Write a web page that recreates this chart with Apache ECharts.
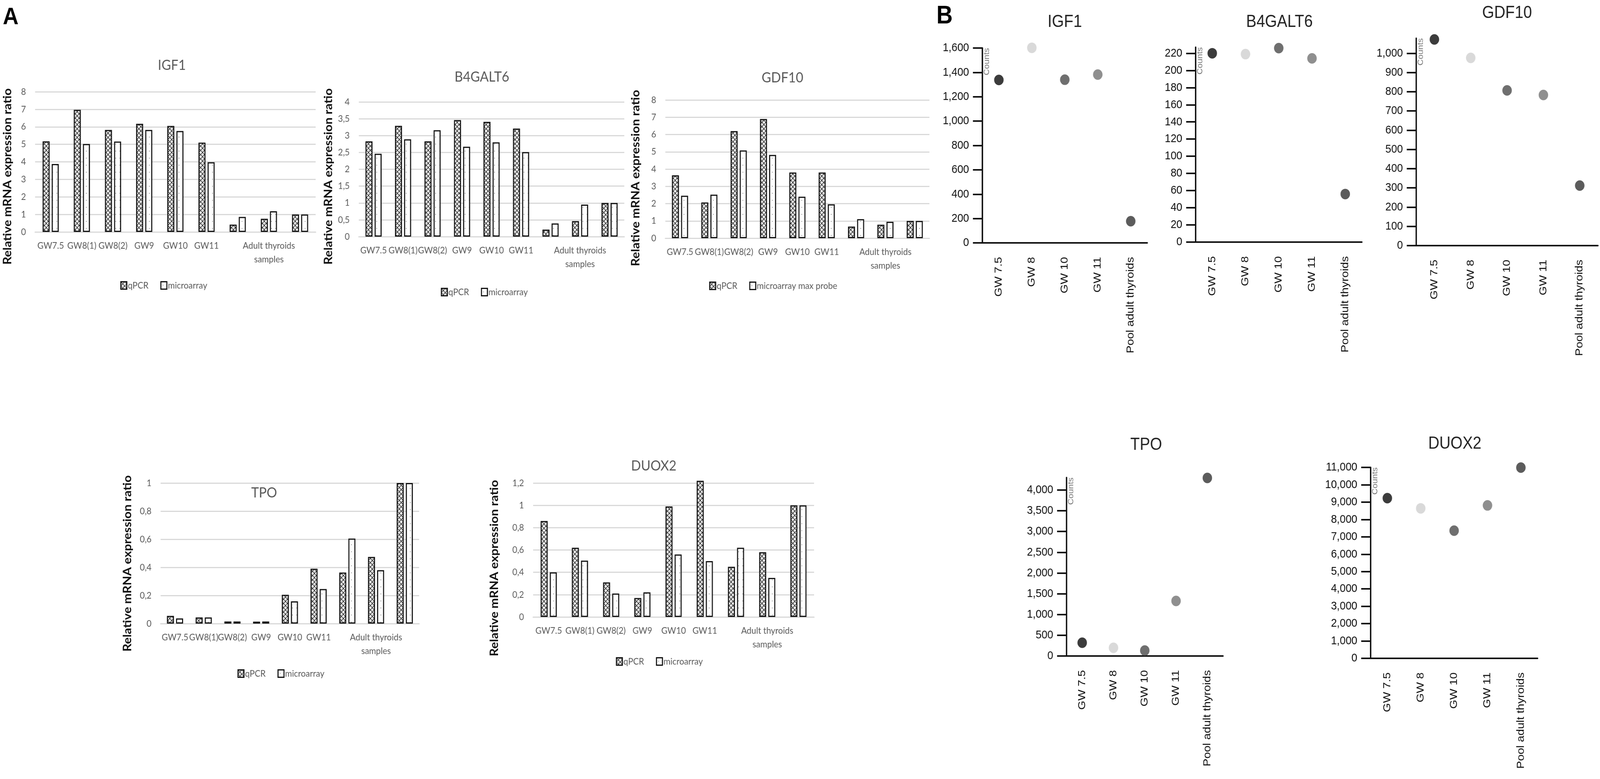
<!DOCTYPE html>
<html>
<head>
<meta charset="utf-8">
<title>Fetal thyroid markers: qPCR vs microarray</title>
<script src="https://cdn.jsdelivr.net/npm/echarts@6/dist/echarts.min.js"></script>
<style>
  html, body { margin: 0; padding: 0; background: #fff; overflow: hidden; }
  #main { width: 4562px; height: 1995px; transform-origin: 0 0; }
</style>
</head>
<body>
<div id="main"></div>
<script>
// ---- panel A data (relative mRNA expression ratio) ----
var catsA = ['GW7.5', 'GW8(1)', 'GW8(2)', 'GW9', 'GW10', 'GW11', '', 'Adult thyroids\nsamples', ''];

var igf1Qpcr    = [5.17, 6.97, 5.82, 6.17, 6.05, 5.1, 0.42, 0.75, 1.0];
var igf1Micro   = [3.88, 5.02, 5.16, 5.82, 5.76, 3.98, 0.86, 1.18, 1.0];
var b4galt6Qpcr = [2.83, 3.29, 2.83, 3.46, 3.41, 3.21, 0.21, 0.46, 1.0];
var b4galt6Micro= [2.46, 2.89, 3.16, 2.67, 2.8, 2.51, 0.39, 0.95, 1.0];
var gdf10Qpcr   = [3.64, 2.07, 6.2, 6.9, 3.8, 3.8, 0.67, 0.78, 1.0];
var gdf10Micro  = [2.46, 2.52, 5.08, 4.82, 2.4, 1.96, 1.1, 0.95, 1.0];
var tpoQpcr     = [0.055, 0.044, 0.015, 0.014, 0.205, 0.39, 0.363, 0.474, 1.0];
var tpoMicro    = [0.037, 0.044, 0.015, 0.015, 0.158, 0.246, 0.605, 0.38, 1.0];
var duox2Qpcr   = [0.86, 0.62, 0.31, 0.17, 0.99, 1.22, 0.45, 0.58, 1.0];
var duox2Micro  = [0.4, 0.505, 0.21, 0.22, 0.56, 0.5, 0.62, 0.35, 1.0];

// ---- panel B data (microarray counts) ----
var catsB = ['GW 7.5', 'GW 8', 'GW 10', 'GW 11', 'Pool adult thyroids'];

var igf1Counts    = [1338, 1602, 1340, 1382, 178];
var b4galt6Counts = [220, 219, 226, 214, 56];
var gdf10Counts   = [1072, 976, 807, 783, 312];
var tpoCounts     = [320, 198, 132, 1327, 4290];
var duox2Counts   = [9230, 8640, 7356, 8810, 10990];

var igf1Ticks    = [0, 200, 400, 600, 800, 1000, 1200, 1400, 1600];
var b4galt6Ticks = [0, 20, 40, 60, 80, 100, 120, 140, 160, 180, 200, 220];
var gdf10Ticks   = [0, 100, 200, 300, 400, 500, 600, 700, 800, 900, 1000];
var tpoTicks     = [0, 500, 1000, 1500, 2000, 2500, 3000, 3500, 4000];
var duox2Ticks   = [0, 1000, 2000, 3000, 4000, 5000, 6000, 7000, 8000, 9000, 10000, 11000];

// grey level of each sample dot
var dotColors = ['#0b0b0b', '#cfcfcf', '#4b4b4b', '#737373', '#333333'];

function hatch() {
  var c = document.createElement('canvas');
  c.width = 11; c.height = 11;
  var g = c.getContext('2d');
  g.fillStyle = '#fff'; g.fillRect(0, 0, 11, 11);
  g.strokeStyle = '#333'; g.lineWidth = 1.8;
  g.beginPath();
  g.moveTo(-1, -1); g.lineTo(12, 12);
  g.moveTo(12, -1); g.lineTo(-1, 12);
  g.stroke();
  g.fillStyle = '#555';
  g.fillRect(5, 0, 1.5, 1.5);
  return c;
}
function dots() {
  var c = document.createElement('canvas');
  c.width = 12; c.height = 18;
  var g = c.getContext('2d');
  g.fillStyle = '#fff'; g.fillRect(0, 0, 12, 18);
  g.fillStyle = '#888';
  g.fillRect(5, 8, 2, 2);
  return c;
}
var hatchFill = { image: hatch(), repeat: 'repeat' };
var dotFill = { image: dots(), repeat: 'repeat' };

function comma(v) {
  return String(+v.toFixed(2)).replace('.', ',');
}
function thousands(v) {
  return Number(v).toLocaleString('en-US');
}

var panelsA = [
  { title: 'IGF1', q: igf1Qpcr, m: igf1Micro, mName: 'microarray', max: 8, step: 1,
    left: 100, top: 235, width: 800, height: 359, tx: 490, ty: 167, yx: 22, yy: 452, lx: 338, ly: 714 },
  { title: 'B4GALT6', q: b4galt6Qpcr, m: b4galt6Micro, mName: 'microarray', max: 4, step: 0.5,
    left: 1023, top: 261, width: 757, height: 345, tx: 1374, ty: 197, yx: 937, yy: 452, lx: 1252, ly: 731 },
  { title: 'GDF10', q: gdf10Qpcr, m: gdf10Micro, mName: 'microarray max probe', max: 8, step: 1,
    left: 1897, top: 256, width: 753, height: 354, tx: 2231, ty: 199, yx: 1813, yy: 456, lx: 2017, ly: 715 },
  { title: 'TPO', q: tpoQpcr, m: tpoMicro, mName: 'microarray', max: 1, step: 0.2,
    left: 458, top: 1237, width: 737, height: 360, tx: 753, ty: 1262, yx: 364, yy: 1443, lx: 672, ly: 1708 },
  { title: 'DUOX2', q: duox2Qpcr, m: duox2Micro, mName: 'microarray', max: 1.2, step: 0.2,
    left: 1520, top: 1237, width: 801, height: 343, tx: 1864, ty: 1193, yx: 1410, yy: 1455, lx: 1751, ly: 1677 }
];

var panelsB = [
  { title: 'IGF1', v: igf1Counts, ticks: igf1Ticks, max: 1600,
    left: 2801, top: 123, width: 470, height: 499, tx: 3036, ty: 57 },
  { title: 'B4GALT6', v: b4galt6Counts, ticks: b4galt6Ticks, max: 227,
    left: 3409, top: 121, width: 474, height: 499, tx: 3648, ty: 57 },
  { title: 'GDF10', v: gdf10Counts, ticks: gdf10Ticks, max: 1078,
    left: 4038, top: 98, width: 518, height: 531, tx: 4297, ty: 34 },
  { title: 'TPO', v: tpoCounts, ticks: tpoTicks, max: 4300,
    left: 3041, top: 1223, width: 446, height: 457, tx: 3268, ty: 1140 },
  { title: 'DUOX2', v: duox2Counts, ticks: duox2Ticks, max: 11000,
    left: 3908, top: 1197, width: 476, height: 489, tx: 4148, ty: 1137 }
];

var fontA = 'Lato, "Open Sans", sans-serif';
var fontB = '"Liberation Sans", Arial, sans-serif';
var greyA = '#595959';

var option = {
  animation: false,
  backgroundColor: '#fff',
  grid: [], xAxis: [], yAxis: [], series: [], legend: [],
  graphic: [
    { type: 'text', x: 8, y: 45, style: { text: 'A', fontSize: 62, fontWeight: 'bold', fontFamily: fontB, fill: '#000', verticalAlign: 'middle' } },
    { type: 'text', x: 2670, y: 42, style: { text: 'B', fontSize: 64, fontWeight: 'bold', fontFamily: fontB, fill: '#000', verticalAlign: 'middle' } }
  ]
};

panelsA.forEach(function (p, i) {
  option.grid.push({ left: p.left, top: p.top, width: p.width, height: p.height });
  option.xAxis.push({
    type: 'category', gridIndex: i, data: catsA,
    axisLine: { lineStyle: { color: '#d9d9d9', width: 3 } },
    axisTick: { show: false },
    axisLabel: { interval: 0, color: greyA, fontFamily: fontA, fontSize: 24, margin: 18, lineHeight: 35 }
  });
  option.yAxis.push({
    type: 'value', gridIndex: i, min: 0, max: p.max, interval: p.step,
    axisLine: { show: false }, axisTick: { show: false },
    splitLine: { lineStyle: { color: '#d9d9d9', width: 3 } },
    axisLabel: { formatter: comma, color: greyA, fontFamily: fontA, fontSize: 24, margin: 26 }
  });
  option.series.push({
    type: 'bar', name: 'qPCR', xAxisIndex: i, yAxisIndex: i, data: p.q,
    barWidth: 20, barGap: '30%', clip: false,
    itemStyle: { color: hatchFill, borderColor: '#111', borderWidth: 3 }
  });
  option.series.push({
    type: 'bar', name: p.mName, xAxisIndex: i, yAxisIndex: i, data: p.m,
    barWidth: 20, barGap: '30%', clip: false,
    itemStyle: { color: dotFill, borderColor: '#111', borderWidth: 3 }
  });
  option.legend.push({
    data: ['qPCR', p.mName], left: p.lx, top: p.ly, icon: 'rect',
    itemWidth: 17, itemHeight: 19, itemGap: 34,
    itemStyle: { borderColor: '#111', borderWidth: 3 },
    textStyle: { color: greyA, fontFamily: fontA, fontSize: 24, padding: [0, 0, 0, -2] }
  });
  option.graphic.push(
    { type: 'text', x: p.tx, y: p.ty, style: { text: p.title, fontSize: 37, fontFamily: fontA, fill: greyA, align: 'center', verticalAlign: 'middle' } },
    { type: 'text', x: p.yx, y: p.yy, rotation: Math.PI / 2, style: { text: 'Relative mRNA expression ratio', fontSize: 32, fontWeight: 'bold', fontFamily: fontA, fill: '#111', align: 'center', verticalAlign: 'middle' } }
  );
});

panelsB.forEach(function (p, k) {
  var i = k + panelsA.length;
  option.grid.push({ left: p.left, top: p.top, width: p.width, height: p.height });
  option.xAxis.push({
    type: 'category', gridIndex: i, data: catsB, boundaryGap: true,
    axisLine: { lineStyle: { color: '#111', width: 4 } },
    axisTick: { alignWithLabel: true, length: 22, lineStyle: { color: '#111', width: 4 } },
    axisLabel: { interval: 0, rotate: 90, margin: 36, color: '#111', fontFamily: fontB, fontSize: 30 }
  });
  option.yAxis.push({
    type: 'value', gridIndex: i, min: 0, max: p.max, interval: p.ticks[1],
    axisLine: { show: true, lineStyle: { color: '#111', width: 4 } },
    axisTick: { show: true, length: 27, customValues: p.ticks, lineStyle: { color: '#111', width: 4 } },
    splitLine: { show: false },
    axisLabel: { customValues: p.ticks, formatter: thousands, margin: 38, color: '#111', fontFamily: fontB, fontSize: 30 }
  });
  option.series.push({
    type: 'scatter', name: p.title + ' counts', xAxisIndex: i, yAxisIndex: i, clip: false,
    symbolSize: 27,
    data: p.v.map(function (val, j) {
      return { value: [j, val], itemStyle: { color: dotColors[j] } };
    })
  });
  option.graphic.push(
    { type: 'text', x: p.tx, y: p.ty, style: { text: p.title, fontSize: 44, fontFamily: fontB, fill: '#222', align: 'center', verticalAlign: 'middle' } },
    { type: 'text', x: p.left + 13, y: p.top, rotation: Math.PI / 2, style: { text: 'Counts', fontSize: 22, fontFamily: fontB, fill: '#777', align: 'right', verticalAlign: 'middle' } }
  );
});

var main = document.getElementById('main');
// the browser may clamp the window; fit the 4562x1995 drawing into the real viewport
var sx = window.innerWidth / 4562, sy = window.innerHeight / 1995;
if (Math.abs(sx - 1) > 0.005 || Math.abs(sy - 1) > 0.005) {
  main.style.transform = 'scale(' + sx + ',' + sy + ')';
}
var chart = echarts.init(main);
chart.setOption(option);
</script>
</body>
</html>
